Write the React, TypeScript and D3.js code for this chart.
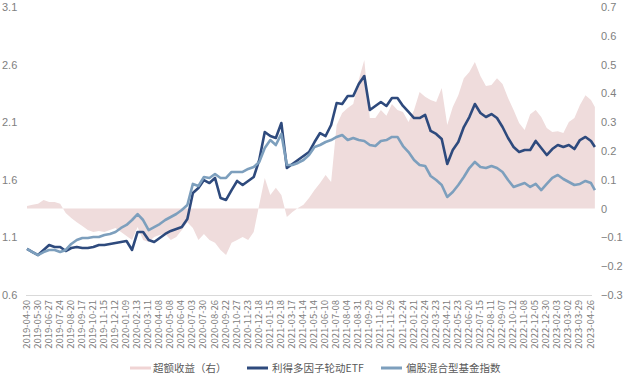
import React from "react";
import * as d3 from "d3";

// x-axis tick labels (every 20 trading days)
const tickDates = [
  "2019-04-30","2019-05-30","2019-06-27","2019-07-24","2019-08-20","2019-09-17","2019-10-21","2019-11-15","2019-12-12",
  "2020-01-09","2020-02-13","2020-03-11","2020-04-08","2020-05-08","2020-06-04","2020-07-03","2020-07-30","2020-08-26","2020-09-22","2020-10-27","2020-11-23","2020-12-18",
  "2021-01-15","2021-02-18","2021-03-17","2021-04-14","2021-05-14","2021-06-10","2021-07-08","2021-08-04","2021-08-31","2021-09-29","2021-11-02","2021-11-29","2021-12-24",
  "2022-01-21","2022-02-24","2022-03-23","2022-04-21","2022-05-23","2022-06-20","2022-07-15","2022-08-11","2022-09-07","2022-10-12","2022-11-08","2022-12-05","2022-12-30",
  "2023-02-03","2023-03-02","2023-03-29","2023-04-26",
];

// sampled every 10 trading days, last sample at trading day 1027
const etf = [
  1.00,0.973,0.947,0.991,1.034,1.017,1.017,0.982,1.008,1.017,
  1.008,1.008,1.017,1.034,1.034,1.043,1.051,1.06,1.069,0.991,
  1.147,1.147,1.077,1.06,1.095,1.13,1.156,1.173,1.19,1.26,
  1.485,1.529,1.598,1.572,1.616,1.442,1.425,1.511,1.59,1.555,
  1.59,1.624,1.772,2.015,1.98,1.963,2.093,1.702,1.737,1.772,
  1.807,1.841,1.928,2.006,1.98,2.076,2.267,2.258,2.327,2.327,
  2.432,2.501,2.206,2.241,2.275,2.241,2.31,2.31,2.241,2.189,
  2.136,2.136,2.163,2.024,1.998,1.954,1.737,1.859,1.928,2.058,
  2.145,2.258,2.18,2.145,2.171,2.136,2.058,1.963,1.885,1.841,
  1.859,1.859,1.937,1.876,1.815,1.867,1.902,1.885,1.902,1.867,
  1.945,1.972,1.937,1.885,
];

const fundIndex = [
  1.00,0.973,0.947,0.973,0.991,0.991,0.973,0.991,1.043,1.077,
  1.095,1.095,1.103,1.103,1.121,1.13,1.147,1.182,1.208,1.251,
  1.303,1.251,1.164,1.19,1.216,1.251,1.277,1.303,1.338,1.381,
  1.564,1.546,1.624,1.616,1.65,1.616,1.616,1.668,1.668,1.668,
  1.694,1.711,1.755,1.876,1.945,1.902,1.998,1.728,1.728,1.746,
  1.772,1.815,1.885,1.902,1.928,1.945,1.972,1.989,1.945,1.963,
  1.945,1.937,1.902,1.893,1.937,1.945,1.972,1.972,1.893,1.841,
  1.772,1.728,1.72,1.633,1.598,1.555,1.451,1.494,1.555,1.624,
  1.702,1.755,1.711,1.702,1.72,1.702,1.668,1.598,1.538,1.555,
  1.572,1.538,1.564,1.511,1.564,1.616,1.642,1.607,1.581,1.555,
  1.564,1.59,1.572,1.511,
];

const excess = [
  0.009,0.0135,0.017,0.030,0.023,0.023,0.017,-0.015,-0.033,-0.047,
  -0.060,-0.074,-0.081,-0.078,-0.081,-0.074,-0.067,-0.081,-0.095,-0.109,
  -0.064,-0.109,-0.116,-0.099,-0.092,-0.088,-0.109,-0.099,-0.074,-0.047,
  -0.067,-0.109,-0.088,-0.109,-0.119,-0.144,-0.161,-0.119,-0.109,-0.099,
  -0.109,-0.081,0.0135,0.106,0.047,0.072,0.047,-0.029,-0.012,0.002,
  0.0135,0.037,0.065,0.089,0.117,0.092,0.290,0.332,0.349,0.363,
  0.447,0.516,0.315,0.315,0.342,0.322,0.363,0.342,0.335,0.301,
  0.342,0.405,0.388,0.377,0.370,0.419,0.290,0.353,0.394,0.453,
  0.474,0.509,0.460,0.426,0.429,0.453,0.433,0.384,0.342,0.297,
  0.273,0.328,0.342,0.318,0.28,0.266,0.269,0.2625,0.301,0.315,
  0.36,0.394,0.377,0.353,
];

const leftTicks = [0.6, 1.1, 1.6, 2.1, 2.6, 3.1];
const rightTicks = [-0.3, -0.2, -0.1, 0, 0.1, 0.2, 0.3, 0.4, 0.5, 0.6, 0.7];

const seriesNames = ["超额收益（右）", "利得多因子轮动ETF", "偏股混合型基金指数"];

const W = 631, H = 377;
const C_AREA = "#efdcdc";
const C_ETF = "#2e4a7d";
const C_IDX = "#7d9fbd";
const C_TEXT = "#808080";
const FONT = "'Noto Sans CJK SC', 'Noto Sans', sans-serif";
const NUMFONT = "'Liberation Sans', Arial, sans-serif";

export default function App() {
  const dayOf = (i: number) => (i < 103 ? i * 10 : 1027);
  const x = d3.scaleLinear().domain([0, 1020]).range([27, 591]);
  const yL = d3.scaleLinear().domain([0.6, 3.1]).range([295, 7]);
  const yR = d3.scaleLinear().domain([-0.3, 0.7]).range([295, 7]);

  const area = d3.area<number>()
    .x((_, i) => x(dayOf(i)))
    .y0(yR(0))
    .y1((d) => yR(d));
  const lineL = d3.line<number>()
    .x((_, i) => x(dayOf(i)))
    .y((d) => yL(d));

  const fmtR = (v: number) => (v === 0 ? "0" : (v < 0 ? "\u2212" : "") + Math.abs(v).toFixed(1));

  const legendItems = [
    { name: seriesNames[0], color: "#f0d4d4", sx: 130, tx: 153 },
    { name: seriesNames[1], color: C_ETF, sx: 247, tx: 272 },
    { name: seriesNames[2], color: C_IDX, sx: 381, tx: 406 },
  ];

  return (
    <svg width={W} height={H} style={{ position: "absolute", left: 0, top: 0, background: "#fff" }}>
      <path d={area(excess) || ""} fill={C_AREA} />
      <path d={lineL(etf) || ""} fill="none" stroke={C_ETF} strokeWidth={2.6} strokeLinejoin="round" />
      <path d={lineL(fundIndex) || ""} fill="none" stroke={C_IDX} strokeWidth={2.6} strokeLinejoin="round" />
      <line x1={26} x2={592} y1={295.5} y2={295.5} stroke="#d9d9d9" strokeWidth={1} />
      {leftTicks.map((t) => (
        <text key={"l" + t} x={2} y={yL(t) + 4} fontSize={11} fill={C_TEXT} fontFamily={NUMFONT}>
          {t.toFixed(1)}
        </text>
      ))}
      {rightTicks.map((t) => (
        <text key={"r" + t} x={601} y={yR(t) + 4} fontSize={11} fill={C_TEXT} fontFamily={NUMFONT}>
          {fmtR(t)}
        </text>
      ))}
      {tickDates.map((d, i) => (
        <text
          key={d}
          transform={`translate(${x(i * 20) + 2.5},300) rotate(-90)`}
          textAnchor="end"
          fontSize={9.5}
          fill={C_TEXT}
          fontFamily={FONT}
        >
          {d}
        </text>
      ))}
      {legendItems.map((it) => (
        <g key={it.name}>
          <line x1={it.sx} x2={it.sx + 21} y1={368} y2={368} stroke={it.color} strokeWidth={3} />
          <text x={it.tx} y={368} dy="0.35em" fontSize={10.5} fill="#595959" fontFamily={FONT}>
            {it.name}
          </text>
        </g>
      ))}
    </svg>
  );
}
